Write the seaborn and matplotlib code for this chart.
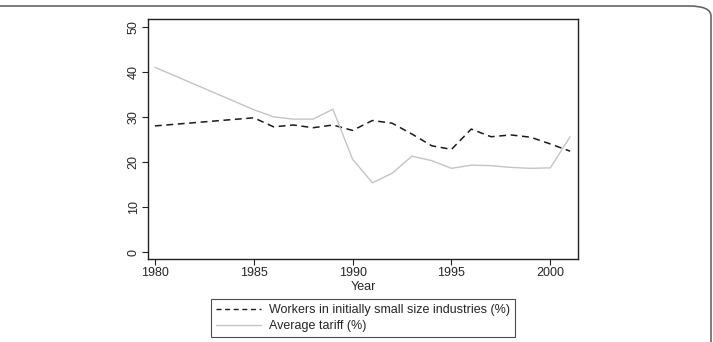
import matplotlib
matplotlib.use("Agg")
import matplotlib.pyplot as plt
import seaborn as sns
import pandas as pd
from matplotlib.lines import Line2D
from matplotlib.patches import FancyBboxPatch

years = [1980, 1985, 1986, 1987, 1988, 1989, 1990, 1991, 1992, 1993, 1994,
         1995, 1996, 1997, 1998, 1999, 2000, 2001]
workers = [28.0, 29.8, 27.8, 28.2, 27.6, 28.2, 27.0, 29.2, 28.6, 26.2, 23.6,
           22.8, 27.3, 25.6, 26.0, 25.5, 24.0, 22.4]
tariff = [41.0, 31.6, 30.0, 29.5, 29.5, 31.7, 20.6, 15.4, 17.5, 21.3, 20.3,
          18.6, 19.3, 19.2, 18.8, 18.6, 18.7, 25.6]
labels = ["Workers in initially small size industries (%)", "Average tariff (%)"]
x_ticks = [1980, 1985, 1990, 1995, 2000]
y_ticks = [0, 10, 20, 30, 40, 50]

sns.set_theme(style="white")
plt.rcParams['font.family'] = ['Liberation Sans', 'DejaVu Sans']

df = pd.DataFrame({"Year": years, "workers": workers, "tariff": tariff})

fig = plt.figure(figsize=(7.13, 3.42), dpi=100)
ax = fig.add_axes([148/713, 1-259/342, (578-148)/713, (259-19)/342])

sns.lineplot(data=df, x="Year", y="workers", ax=ax, color="#1a1a1a",
             linewidth=1.1, dashes=False)
ax.lines[-1].set_dashes([4.5, 3])
sns.lineplot(data=df, x="Year", y="tariff", ax=ax, color="#c4c4c4",
             linewidth=1.0)

ax.set_xlim(1979.65, 2001.4)
ax.set_ylim(-1.5, 51.7)
ax.set_xticks(x_ticks)
ax.set_yticks(y_ticks)
ax.set_xlabel("Year", fontsize=9, labelpad=1.5)
ax.set_ylabel("")
for s in ax.spines.values():
    s.set_color("#222222")
    s.set_linewidth(1.0)
ax.tick_params(axis="both", which="both", direction="out", length=4, width=0.8,
               color="#222222", labelsize=9, pad=2, bottom=True, left=True)
for t in ax.get_yticklabels():
    t.set_rotation(90)
    t.set_va("center")

handles = [Line2D([], [], color="#1a1a1a", linewidth=1.0, dashes=[3.6, 2.6]),
           Line2D([], [], color="#c4c4c4", linewidth=1.0)]
leg = fig.legend(handles, labels, loc="upper center",
                 bbox_to_anchor=(363/713, 1-299/342), frameon=True,
                 fancybox=False, fontsize=9, handlelength=3.6,
                 borderpad=0.4, labelspacing=0.35, handletextpad=0.6,
                 borderaxespad=0)
leg.get_frame().set_edgecolor("#222222")
leg.get_frame().set_linewidth(0.8)

frame = FancyBboxPatch((-20/713, -20/342), (711+20)/713, 356/342,
                       boxstyle="round,pad=0,rounding_size=0.03",
                       transform=fig.transFigure, fill=False,
                       edgecolor="#666666", linewidth=1.2, zorder=10)
fig.patches.append(frame)

fig.savefig("out.png", dpi=100)
